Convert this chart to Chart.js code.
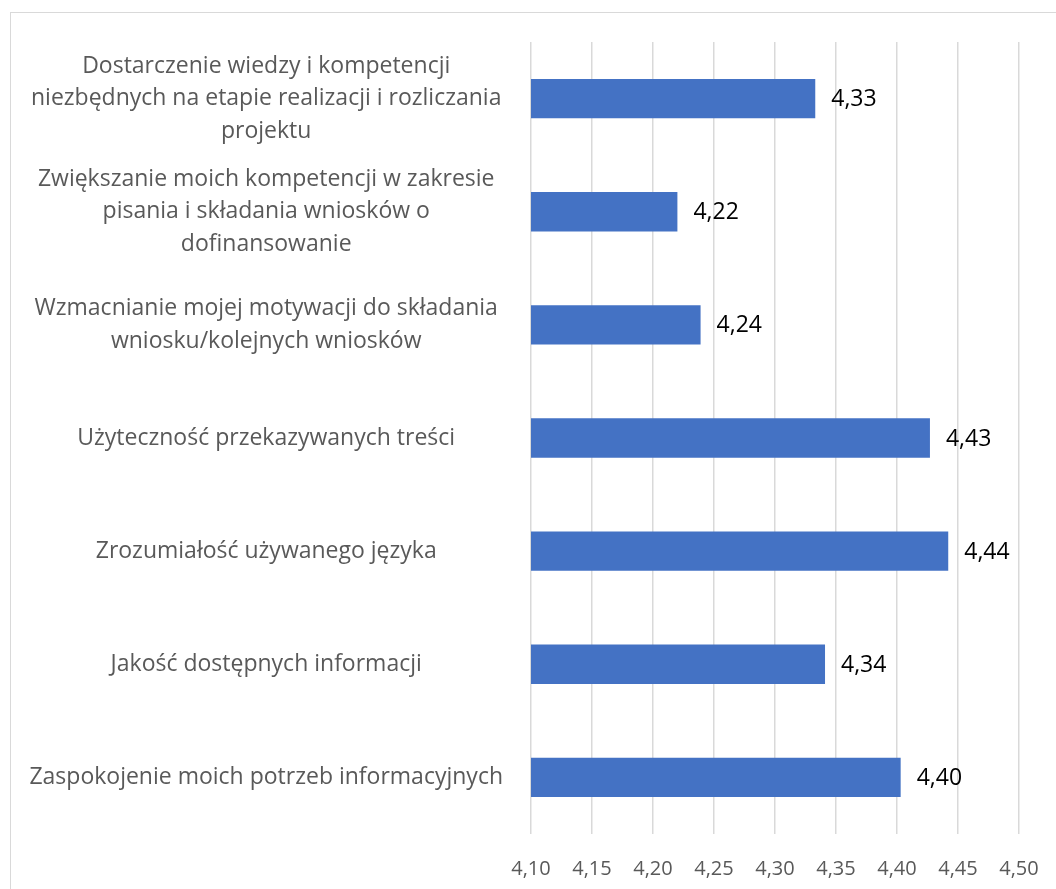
<!DOCTYPE html>
<html>
<head>
<meta charset="utf-8">
<script src="https://cdn.jsdelivr.net/npm/chart.js@4"></script>
<style>
  body { margin: 0; background: #fff; }
  #wrap { position: relative; width: 1056px; height: 889px; overflow: hidden; }
  #ramka { position: absolute; left: 10px; top: 12px; width: 1100px; height: 950px; border: 1px solid #d9d9d9; box-sizing: border-box; }
  canvas { position: absolute; left: 0; top: 0; }
</style>
</head>
<body>
<div id="wrap">
  <div id="ramka"></div>
  <canvas id="wykres" width="1056" height="889"></canvas>
</div>
<script>
// Kategorie (etykiety osi Y, zawijane jak w oryginale)
const kategorie = [
    ["Dostarczenie wiedzy i kompetencji", "niezbędnych na etapie realizacji i rozliczania", "projektu"],
    ["Zwiększanie moich kompetencji w zakresie", "pisania i składania wniosków o", "dofinansowanie"],
    ["Wzmacnianie mojej motywacji do składania", "wniosku/kolejnych wniosków"],
    "Użyteczność przekazywanych treści",
    "Zrozumiałość używanego języka",
    "Jakość dostępnych informacji",
    "Zaspokojenie moich potrzeb informacyjnych",
];

// Średnie oceny
const oceny = [4.333, 4.22, 4.239, 4.427, 4.442, 4.341, 4.403];

// Zakres osi X
const osMin = 4.10;
const osMax = 4.50;
const osKrok = 0.05;

const formatPL = (v) => v.toFixed(2).replace(".", ",");

// Etykiety wartości przy słupkach
const etykietyWartosci = {
    id: "etykietyWartosci",
    afterDatasetsDraw(chart) {
        const ctx = chart.ctx;
        const meta = chart.getDatasetMeta(0);
        ctx.save();
        ctx.font = "23px 'Open Sans'";
        ctx.fillStyle = "#000";
        ctx.textAlign = "left";
        ctx.textBaseline = "middle";
        meta.data.forEach((bar, i) => {
            ctx.fillText(formatPL(oceny[i]), bar.x + 16, bar.y + 1);
        });
        ctx.restore();
    },
};

document.addEventListener("DOMContentLoaded", () => {
    const ctx = document.getElementById("wykres").getContext("2d");

    new Chart(ctx, {
        type: "bar",
        data: {
            labels: kategorie,
            datasets: [
                {
                    data: oceny,
                    backgroundColor: "#4472C4",
                    borderWidth: 0,
                    barPercentage: 0.348,
                    categoryPercentage: 1,
                },
            ],
        },
        options: {
            indexAxis: "y",
            responsive: false,
            devicePixelRatio: 1,
            animation: false,
            layout: { padding: { top: 42, left: 29, right: 37, bottom: 0 } },
            scales: {
                x: {
                    min: osMin,
                    max: osMax,
                    ticks: {
                        stepSize: osKrok,
                        padding: 23,
                        color: "#595959",
                        font: { family: "'Open Sans'", size: 20 },
                        callback: (v) => formatPL(v),
                    },
                    grid: { color: "#d9d9d9", lineWidth: 1.5, drawTicks: false },
                    border: { display: false },
                    afterFit: (scale) => {
                        scale.height = 55;
                        scale.paddingLeft = 0;
                        scale.paddingRight = 0;
                    },
                },
                y: {
                    ticks: {
                        crossAlign: "center",
                        padding: 28,
                        color: "#595959",
                        font: { family: "'Open Sans'", size: 23, lineHeight: 1.41 },
                    },
                    grid: { display: false, drawTicks: false },
                    border: { display: false },
                    afterFit: (scale) => {
                        scale.width = 502;
                        scale.paddingTop = 0;
                        scale.paddingBottom = 0;
                    },
                },
            },
            plugins: {
                legend: { display: false },
                tooltip: { enabled: false },
            },
        },
        plugins: [etykietyWartosci],
    });
});
</script>
</body>
</html>
